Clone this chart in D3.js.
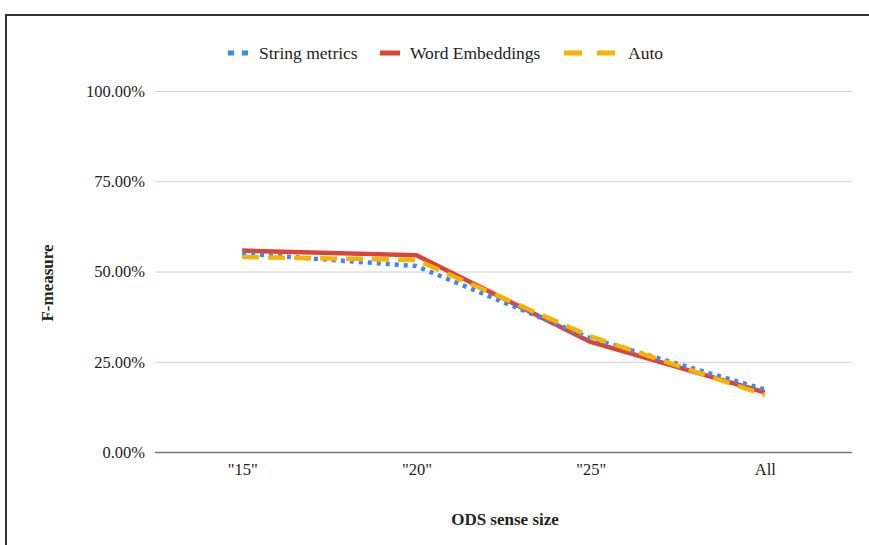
<!DOCTYPE html>
<html>
<head>
<meta charset="utf-8">
<script src="https://cdn.jsdelivr.net/npm/d3@7"></script>
<style>
  body { margin: 0; background: #fff; }
  text { font-family: "Liberation Serif", "Times New Roman", serif; }
</style>
</head>
<body>
<div id="chart"></div>
<script>
const width = 869;
const height = 545;

const categories = ['"15"', '"20"', '"25"', "All"];
const stringMetrics = [0.550, 0.515, 0.315, 0.173];
const wordEmbeddings = [0.558, 0.545, 0.305, 0.165];
const auto = [0.540, 0.532, 0.320, 0.158];
const yTicks = [0, 0.25, 0.5, 0.75, 1];

const series = [
  { name: "String metrics", values: stringMetrics, color: "#4285f4", dash: "4,5" },
  { name: "Word Embeddings", values: wordEmbeddings, color: "#db4437", dash: null },
  { name: "Auto", values: auto, color: "#f4b400", dash: "17,9" }
];

const margin = { left: 155, right: 17, top: 91, bottom: 93 };

const svg = d3.select("#chart")
  .append("svg")
  .attr("width", width)
  .attr("height", height);

// frame
svg.append("rect")
  .attr("x", 6)
  .attr("y", 15)
  .attr("width", width + 20)
  .attr("height", height + 20)
  .attr("fill", "none")
  .attr("stroke", "#333")
  .attr("stroke-width", 2);

const x = d3.scalePoint()
  .domain(categories)
  .range([margin.left, width - margin.right])
  .padding(0.5);

const y = d3.scaleLinear()
  .domain([0, 1])
  .range([height - margin.bottom, margin.top]);

// gridlines + y labels
const yAxis = svg.append("g")
  .attr("transform", `translate(${margin.left},0)`)
  .call(d3.axisLeft(y)
    .tickValues(yTicks)
    .tickFormat(d => (d * 100).toFixed(2) + "%")
    .tickSize(-(width - margin.left - margin.right))
    .tickPadding(10));
yAxis.select(".domain").remove();
yAxis.selectAll(".tick line")
  .attr("stroke", d => d === 0 ? "#777" : "#d0d0d0")
  .attr("stroke-width", d => d === 0 ? 1.5 : 1);
yAxis.selectAll(".tick text")
  .attr("font-size", 16.5)
  .attr("fill", "#222")
  .style("font-family", "'Liberation Serif', serif");

// x labels
const xAxis = svg.append("g")
  .attr("transform", `translate(0,${height - margin.bottom})`)
  .call(d3.axisBottom(x).tickSize(0).tickPadding(11));
xAxis.select(".domain").remove();
xAxis.selectAll(".tick text")
  .attr("font-size", 16.5)
  .attr("fill", "#222")
  .style("font-family", "'Liberation Serif', serif");

// lines
const line = d3.line()
  .x((d, i) => x(categories[i]))
  .y(d => y(d));

svg.append("g")
  .selectAll("path")
  .data([series[1], series[0], series[2]])
  .join("path")
  .attr("d", d => line(d.values))
  .attr("fill", "none")
  .attr("stroke", d => d.color)
  .attr("stroke-width", 4.5)
  .attr("stroke-dasharray", d => d.dash)
  .attr("stroke-linejoin", "round");

// legend
const legendItems = [
  { s: series[0], x: 228, sw: 20, tx: 259, dash: "6,8" },
  { s: series[1], x: 380, sw: 20, tx: 410, dash: null },
  { s: series[2], x: 564, sw: 51, tx: 628, dash: "18,15" }
];
const legend = svg.append("g");
legend.selectAll("line")
  .data(legendItems)
  .join("line")
  .attr("x1", d => d.x)
  .attr("x2", d => d.x + d.sw)
  .attr("y1", 53)
  .attr("y2", 53)
  .attr("stroke", d => d.s.color)
  .attr("stroke-width", 5)
  .attr("stroke-dasharray", d => d.dash);
legend.selectAll("text")
  .data(legendItems)
  .join("text")
  .attr("x", d => d.tx)
  .attr("y", 53)
  .attr("dy", "0.35em")
  .attr("font-size", 17.5)
  .attr("fill", "#222")
  .text(d => d.s.name);

// axis titles
svg.append("text")
  .attr("x", 505)
  .attr("y", 519)
  .attr("dy", "0.35em")
  .attr("text-anchor", "middle")
  .attr("font-size", 17)
  .attr("font-weight", "bold")
  .attr("fill", "#222")
  .text("ODS sense size");

svg.append("text")
  .attr("transform", "translate(47,283) rotate(-90)")
  .attr("dy", "0.35em")
  .attr("text-anchor", "middle")
  .attr("font-size", 17)
  .attr("font-weight", "bold")
  .attr("fill", "#222")
  .text("F-measure");
</script>
</body>
</html>
